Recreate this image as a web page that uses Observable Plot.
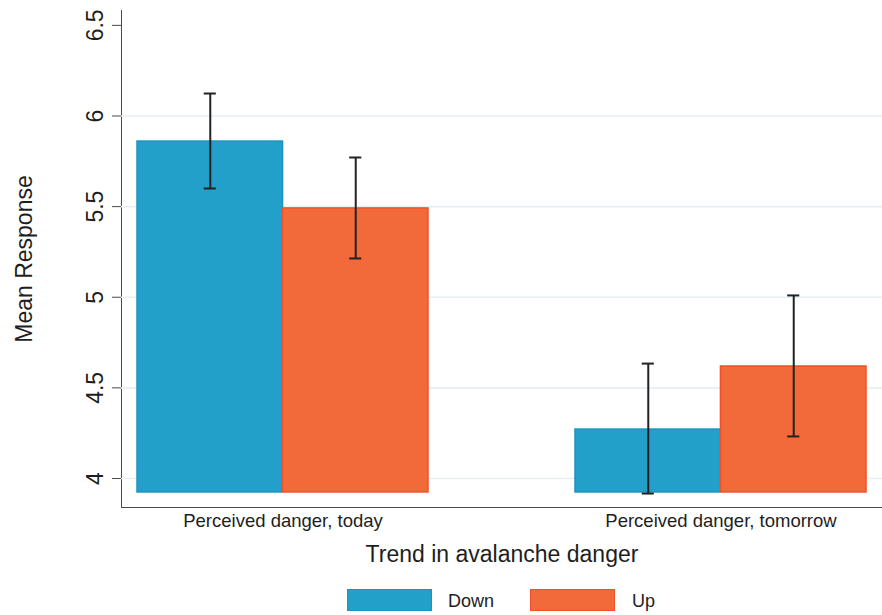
<!DOCTYPE html>
<html>
<head>
<meta charset="utf-8">
<script src="https://cdn.jsdelivr.net/npm/d3@7"></script>
<script src="https://cdn.jsdelivr.net/npm/@observablehq/plot@0.6"></script>
<style>
  html, body { margin: 0; padding: 0; background: #fff; }
  body { width: 882px; height: 615px; overflow: hidden; font-family: "Liberation Sans", Arial, Helvetica, sans-serif; }
  #legend { position: relative; width: 882px; height: 35px; }
  .lg-box { position: absolute; top: 9px; width: 83px; height: 20px; border: 1.5px solid; }
  .lg-text { position: absolute; top: 10px; height: 23px; line-height: 23px; font-size: 18px; color: #222; }
</style>
</head>
<body>
<div id="chart"></div>
<div id="legend"></div>
<script>
// ---- data ----
const categories = ["Perceived danger, today", "Perceived danger, tomorrow"];
const series = ["Down", "Up"];
const means = { Down: [5.859, 4.270], Up: [5.490, 4.618] };
const ciLow = { Down: [5.600, 3.917], Up: [5.214, 4.232] };
const ciHigh = { Down: [6.124, 4.634], Up: [5.771, 5.010] };
const yTicks = [4, 4.5, 5, 5.5, 6, 6.5];
const gridTicks = [4, 4.5, 5, 5.5, 6];
const barBase = 3.923;
const yDomain = [3.84, 6.582];
const xTitle = "Trend in avalanche danger";
const yTitle = "Mean Response";

// ---- styles ----
const fills = { Down: "#23a0c9", Up: "#f26a39" };
const strokes = { Down: "#1b93c0", Up: "#f2502a" };

const rows = [];
categories.forEach((c, i) => series.forEach(s => rows.push({
  category: c, series: s, mean: means[s][i], lo: ciLow[s][i], hi: ciHigh[s][i]
})));

const W = 882, H = 580, ML = 121, MR = 0, MT = 10, MB = 73;
const padInner = 0.336, padOuter = 0.0365;
const step = (W - ML - MR) / (categories.length - padInner + 2 * padOuter);
const bw = step * (1 - padInner);
const half = bw / 2, quarter = bw / 4, cap = 6;

const down = rows.filter(d => d.series === "Down");
const up = rows.filter(d => d.series === "Up");

const chart = Plot.plot({
  width: W, height: H,
  marginLeft: ML, marginRight: MR, marginTop: MT, marginBottom: MB,
  style: { fontFamily: '"Liberation Sans", Arial, Helvetica, sans-serif', fontSize: "22px", color: "#4a4a4a", background: "#fff" },
  x: { domain: categories, paddingInner: padInner, paddingOuter: padOuter, align: 0.5,
       axis: "bottom", tickSize: 0, tickFormat: () => "", label: null, line: true },
  y: { domain: yDomain, ticks: yTicks, tickSize: 9, tickFormat: () => "", label: null, line: true },
  marks: [
    Plot.ruleY(gridTicks, { y: d => d, stroke: "#e6eff3", strokeWidth: 1.6 }),
    Plot.barY(down, { x: "category", y1: () => barBase, y2: "mean", fill: fills.Down, stroke: strokes.Down, strokeWidth: 1.5, insetRight: half }),
    Plot.barY(up, { x: "category", y1: () => barBase, y2: "mean", fill: fills.Up, stroke: strokes.Up, strokeWidth: 1.5, insetLeft: half }),
    Plot.ruleX(down, { x: "category", y1: "lo", y2: "hi", dx: -quarter, stroke: "#222", strokeWidth: 2 }),
    Plot.ruleX(up, { x: "category", y1: "lo", y2: "hi", dx: quarter, stroke: "#222", strokeWidth: 2 }),
    Plot.tickY(down, { x: "category", y: "hi", insetLeft: quarter - cap, insetRight: 3 * quarter - cap, stroke: "#222", strokeWidth: 2 }),
    Plot.tickY(down, { x: "category", y: "lo", insetLeft: quarter - cap, insetRight: 3 * quarter - cap, stroke: "#222", strokeWidth: 2 }),
    Plot.tickY(up, { x: "category", y: "hi", insetLeft: 3 * quarter - cap, insetRight: quarter - cap, stroke: "#222", strokeWidth: 2 }),
    Plot.tickY(up, { x: "category", y: "lo", insetLeft: 3 * quarter - cap, insetRight: quarter - cap, stroke: "#222", strokeWidth: 2 }),
    // y tick labels (rotated)
    Plot.text(yTicks, { y: d => d, text: d => String(d), frameAnchor: "left", textAnchor: "middle", lineAnchor: "middle", rotate: -90, dx: -26, fontSize: 23, fill: "#1e1e1e" }),
    // y title
    Plot.text([yTitle], { text: d => d, frameAnchor: "left", textAnchor: "middle", lineAnchor: "middle", rotate: -90, dx: -97, fontSize: 23, fill: "#1e1e1e" }),
    // x category labels
    Plot.text(categories, { x: d => d, text: d => d, frameAnchor: "bottom", textAnchor: "middle", lineAnchor: "middle", dy: 14, fontSize: 18.5, fill: "#1e1e1e" }),
    // x title
    Plot.text([xTitle], { text: d => d, frameAnchor: "bottom", textAnchor: "middle", lineAnchor: "middle", dy: 47, fontSize: 23, fill: "#1e1e1e" })
  ]
});
document.getElementById("chart").appendChild(chart);

// ---- legend ----
const legend = document.getElementById("legend");
const legendBoxX = [347, 530];
const legendTextX = [448, 632];
series.forEach((s, i) => {
  const b = document.createElement("div");
  b.className = "lg-box";
  b.style.left = legendBoxX[i] + "px";
  b.style.background = fills[s];
  b.style.borderColor = strokes[s];
  legend.appendChild(b);
  const t = document.createElement("div");
  t.className = "lg-text";
  t.style.left = legendTextX[i] + "px";
  t.textContent = s;
  legend.appendChild(t);
});
</script>
</body>
</html>
